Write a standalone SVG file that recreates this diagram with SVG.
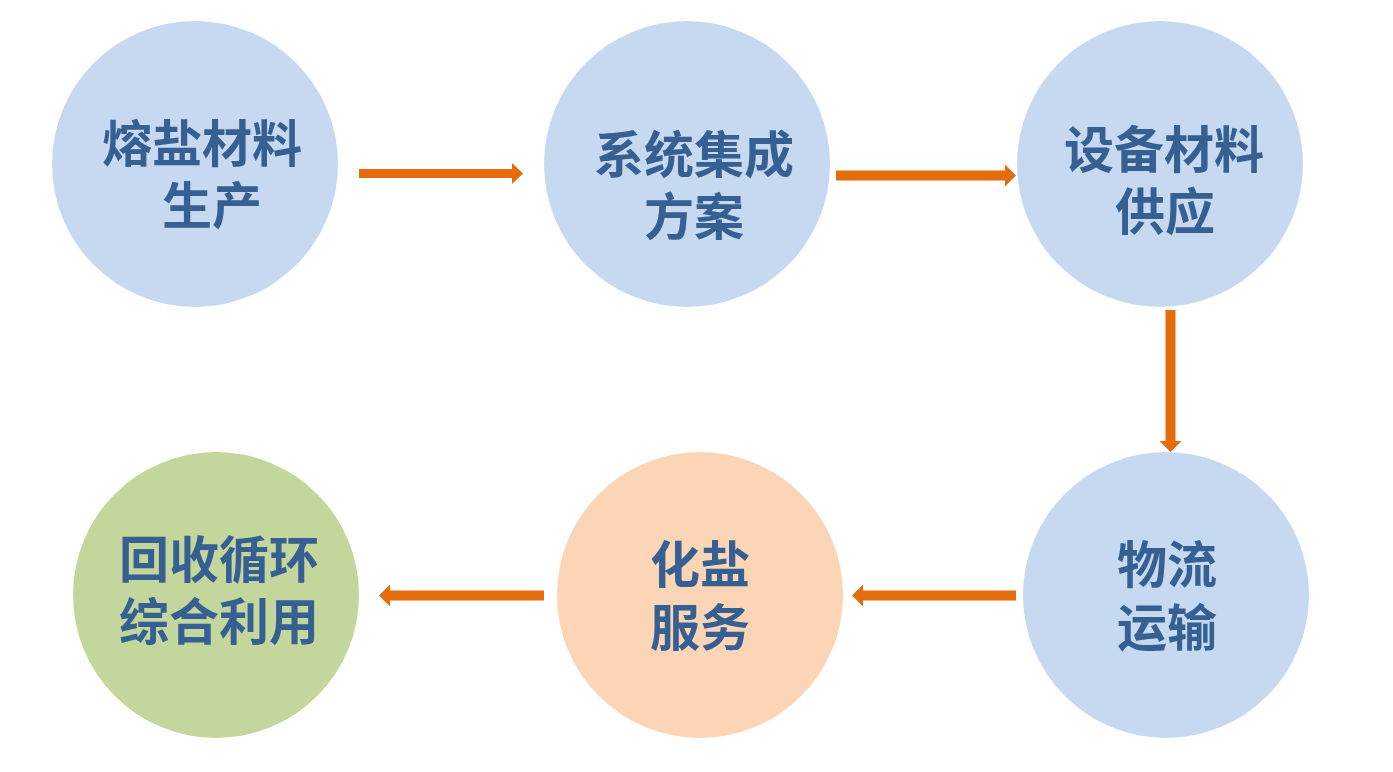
<svg xmlns="http://www.w3.org/2000/svg" width="1393" height="772" viewBox="0 0 1393 772">
<style>
.blue{fill:#C6D9F1}
.green{fill:#C3D69B}
.peach{fill:#FBD5B5}
.lbl{font-family:"Liberation Sans","Noto Sans CJK SC","Noto Sans CJK JP",sans-serif;font-weight:bold;font-size:50px;fill:#376092;text-anchor:middle}
.arrow{fill:#E46C0A}
</style>
<rect width="1393" height="772" fill="#FFFFFF"/>
<g id="connectors">
<path class="arrow" d="M359 169 H512 V163 L523 173.5 L512 184 V178 H359 Z"/>
<path class="arrow" d="M836 170.5 H1005 V164.5 L1016 175.5 L1005 186.5 V180.5 H836 Z"/>
<path class="arrow" d="M1165.5 310 V441 H1159.5 L1170.5 452 L1181.5 441 H1175.5 V310 Z"/>
<path class="arrow" d="M1016 590.5 H863 V584.5 L852 595.5 L863 606.5 V600.5 H1016 Z"/>
<path class="arrow" d="M544 590.5 H390 V584.5 L379 595.5 L390 606.5 V600.5 H544 Z"/>
</g>
<g id="node1">
<circle class="blue" cx="195" cy="164" r="143"/>
<text class="lbl"><tspan x="202" y="162">熔盐材料</tspan><tspan x="212" y="224">生产</tspan></text>
</g>
<g id="node2">
<circle class="blue" cx="687" cy="164" r="143"/>
<text class="lbl"><tspan x="694" y="173">系统集成</tspan><tspan x="694" y="235">方案</tspan></text>
</g>
<g id="node3">
<circle class="blue" cx="1160" cy="164" r="143"/>
<text class="lbl"><tspan x="1164" y="168">设备材料</tspan><tspan x="1165" y="230">供应</tspan></text>
</g>
<g id="node4">
<circle class="blue" cx="1166" cy="595" r="143"/>
<text class="lbl"><tspan x="1167" y="583">物流</tspan><tspan x="1167" y="646">运输</tspan></text>
</g>
<g id="node5">
<circle class="peach" cx="700" cy="595" r="143"/>
<text class="lbl"><tspan x="700" y="583">化盐</tspan><tspan x="700" y="646">服务</tspan></text>
</g>
<g id="node6">
<circle class="green" cx="216" cy="595" r="143"/>
<text class="lbl"><tspan x="219" y="578">回收循环</tspan><tspan x="219" y="640">综合利用</tspan></text>
</g>
</svg>
